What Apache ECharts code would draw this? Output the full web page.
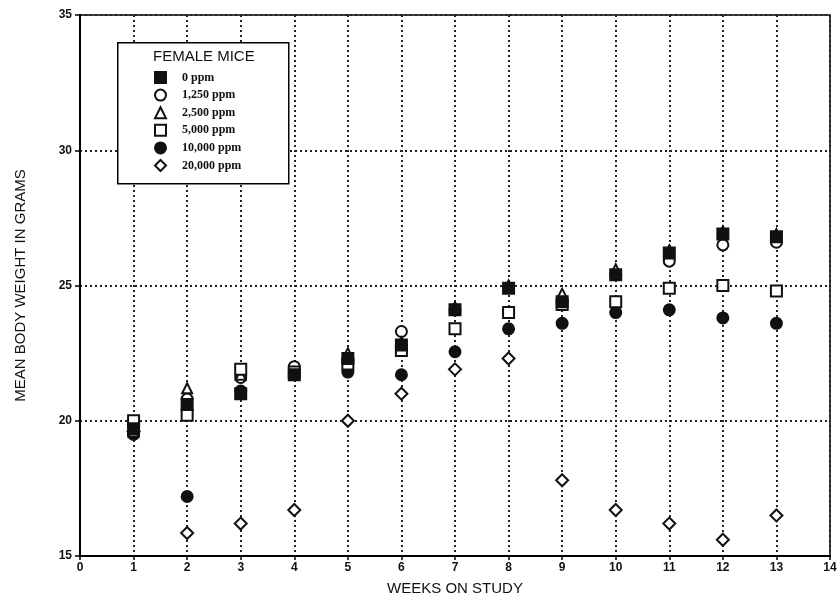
<!DOCTYPE html>
<html>
<head>
<meta charset="utf-8">
<script src="https://cdn.jsdelivr.net/npm/echarts@6/dist/echarts.min.js"></script>
<style>html,body{margin:0;padding:0;background:#fff}#c{width:840px;height:601px}</style>
</head>
<body>
<div id="c"></div>
<script>
var weeks = [1,2,3,4,5,6,7,8,9,10,11,12,13];
var seriesNames = ['0 ppm','1,250 ppm','2,500 ppm','5,000 ppm','10,000 ppm','20,000 ppm'];
var ppm0     = [19.7,20.6,21.0,21.7,22.3,22.8,24.1,24.9,24.4,25.4,26.2,26.9,26.8];
var ppm1250  = [19.5,20.8,21.6,22.0,22.2,23.3,24.1,24.0,24.4,25.4,25.9,26.5,26.6];
var ppm2500  = [19.6,21.2,21.7,21.8,22.5,22.9,24.2,25.0,24.7,25.6,26.3,27.0,26.9];
var ppm5000  = [20.0,20.2,21.9,21.8,22.1,22.6,23.4,24.0,24.3,24.4,24.9,25.0,24.8];
var ppm10000 = [19.5,17.2,21.1,21.7,21.8,21.7,22.55,23.4,23.6,24.0,24.1,23.8,23.6];
var ppm20000 = [19.6,15.85,16.2,16.7,20.0,21.0,21.9,22.3,17.8,16.7,16.2,15.6,16.5];
var yTicks = [15,20,25,30,35];
var xTicks = [0,1,2,3,4,5,6,7,8,9,10,11,12,13,14];

var allData = [ppm0, ppm1250, ppm2500, ppm5000, ppm10000, ppm20000];
var symbols = ['rect','emptyCircle','emptyTriangle','emptyRect','circle','emptyDiamond'];
var sizes = [11,11,10,11,11,12];
var zs = [7,4,5,6,4,2];

function pairs(arr){ return weeks.map(function(w,i){ return [w, arr[i]]; }); }

var ink = '#111';
var series = seriesNames.map(function(n, k){
  return {
    name: n, type: 'scatter', symbol: symbols[k], symbolSize: sizes[k], z: zs[k],
    itemStyle: { color: ink, borderColor: ink, borderWidth: 2, opacity: 1 },
    emphasis: { disabled: true },
    data: pairs(allData[k])
  };
});

var chart = echarts.init(document.getElementById('c'), null, {renderer:'canvas'});
chart.setOption({
  animation: false,
  backgroundColor: '#fff',
  grid: { left: 80, right: 10, top: 15, bottom: 45, show: true, borderColor: '#000', borderWidth: 1.5, backgroundColor: 'transparent' },
  xAxis: {
    type: 'value', min: 0, max: 14, interval: 1,
    name: 'WEEKS ON STUDY', nameLocation: 'middle', nameGap: 25,
    nameTextStyle: { fontFamily: 'Liberation Sans', fontSize: 15, color: ink },
    axisLine: { show: true, lineStyle: { color: '#000', width: 2 } },
    axisTick: { show: true, length: 4, lineStyle: { color: '#000', width: 1.5 } },
    axisLabel: { fontFamily: 'Liberation Sans', fontWeight: 'bold', fontSize: 12, color: ink, margin: 6,
      formatter: function(v){ return xTicks.indexOf(v) >= 0 ? String(v) : ''; } },
    splitLine: { show: true, lineStyle: { color: '#222', width: 2, type: [2,3] } }
  },
  yAxis: {
    type: 'value', min: 15, max: 35, interval: 5,
    name: 'MEAN BODY WEIGHT IN GRAMS', nameLocation: 'middle', nameGap: 52,
    nameTextStyle: { fontFamily: 'Liberation Sans', fontSize: 15, color: ink },
    axisLine: { show: true, lineStyle: { color: '#000', width: 2 } },
    axisTick: { show: true, length: 5, lineStyle: { color: '#000', width: 1.5 } },
    axisLabel: { fontFamily: 'Liberation Sans', fontWeight: 'bold', fontSize: 12, color: ink, margin: 8,
      formatter: function(v){ return yTicks.indexOf(v) >= 0 ? String(v) : ''; } },
    splitLine: { show: true, lineStyle: { color: '#222', width: 2, type: [2,3] } }
  },
  legend: {
    orient: 'vertical', left: 149, top: 66, itemWidth: 11, itemHeight: 11, itemGap: 4.6,
    selectedMode: false, z: 30,
    textStyle: { fontFamily: 'Liberation Serif', fontSize: 12, fontWeight: 'bold', color: ink, padding: [0,0,0,11] },
    data: seriesNames
  },
  graphic: [
    { type: 'rect', left: 117, top: 42, shape: { width: 171, height: 141 }, z: 10,
      style: { fill: '#fff', stroke: '#000', lineWidth: 1.5 } },
    { type: 'text', left: 153, top: 49, z: 11,
      style: { text: 'FEMALE MICE', fontFamily: 'Liberation Sans', fontSize: 15, fill: ink } }
  ],
  series: series
});
</script>
</body>
</html>
